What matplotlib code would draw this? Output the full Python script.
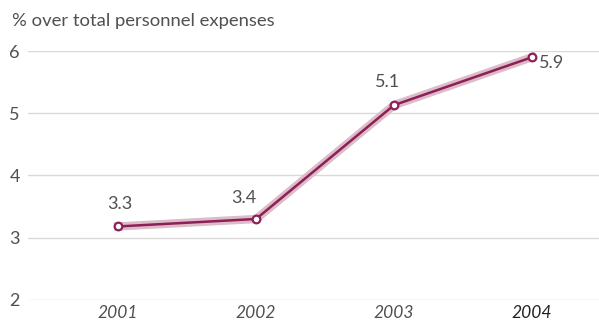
import matplotlib
matplotlib.use("Agg")
import matplotlib.pyplot as plt
import matplotlib.patheffects as pe

plt.rcParams["font.family"] = ["Lato", "DejaVu Sans"]

anios = ["2001", "2002", "2003", "2004"]
valores = [3.18, 3.30, 5.13, 5.90]
etiquetas = ["3.3", "3.4", "5.1", "5.9"]

TEXTO = "#505050"
LINEA = "#8e1f58"
HALO = "#dcbcc7"
REJILLA = "#d9d9d9"

fig = plt.figure(figsize=(5.99, 3.27), dpi=100)
ax = fig.add_axes([0.047, 0.083, 0.953, 0.761])

x = list(range(len(anios)))
ax.plot(x, valores, color=LINEA, lw=1.8, zorder=3,
        path_effects=[pe.Stroke(linewidth=6, foreground=HALO), pe.Normal()])
ax.plot(x, valores, ls="none", marker="o", ms=5.5, mfc="white", mec=LINEA, mew=1.6, zorder=4)

# desplazamiento de cada etiqueta (puntos) y alineacion
desplazamientos = [(1.5, 10.5), (-8.5, 9), (-4.5, 11), (5, -4)]
alineacion = [("center", "bottom"), ("center", "bottom"), ("center", "bottom"), ("left", "center")]
for xi, v, et, d, (ha, va) in zip(x, valores, etiquetas, desplazamientos, alineacion):
    ax.annotate(et, (xi, v), xytext=d, textcoords="offset points",
                ha=ha, va=va, fontsize=13, color=TEXTO)

ax.set_xlim(-0.652, 3.486)
ax.set_ylim(2, 6)
ax.set_yticks([2, 3, 4, 5, 6])
ax.yaxis.grid(True, color=REJILLA, lw=1)
ax.set_axisbelow(True)
for s in ax.spines.values():
    s.set_visible(False)
ax.tick_params(axis="both", length=0, labelsize=13, colors=TEXTO)
ax.tick_params(axis="y", pad=6)
ax.set_xticks(x)
ax.set_xticklabels(anios, fontstyle="italic", fontsize=12.5)
ax.tick_params(axis="x", pad=3.5)
ax.get_xticklabels()[-1].set_color("#222222")

fig.text(0.02, 0.935, "% over total personnel expenses", fontsize=13.3,
         color=TEXTO, va="center")

fig.savefig("out.png", dpi=100)
